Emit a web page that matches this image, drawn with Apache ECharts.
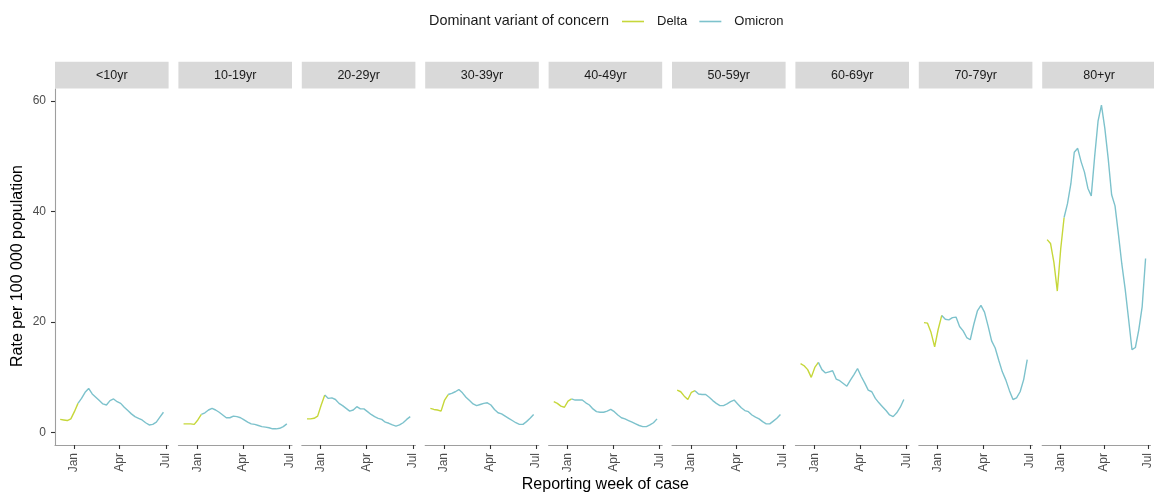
<!DOCTYPE html>
<html>
<head>
<meta charset="utf-8">
<script src="https://cdn.jsdelivr.net/npm/echarts@6/dist/echarts.min.js"></script>
<style>
  html, body { margin: 0; padding: 0; background: #ffffff; }
  #chart { width: 1154px; height: 493px; }
</style>
</head>
<body>
<div id="chart"></div>
<script>
// Weekly COVID-19 case rates by age group, coloured by the dominant variant
const ageGroups = ['<10yr', '10-19yr', '20-29yr', '30-39yr', '40-49yr', '50-59yr', '60-69yr', '70-79yr', '80+yr'];

const weekStarts = [
  '2021-12-05', '2021-12-12', '2021-12-19', '2021-12-26', '2022-01-02', '2022-01-09',
  '2022-01-16', '2022-01-23', '2022-01-30', '2022-02-06', '2022-02-13', '2022-02-20',
  '2022-02-27', '2022-03-06', '2022-03-13', '2022-03-20', '2022-03-27', '2022-04-03',
  '2022-04-10', '2022-04-17', '2022-04-24', '2022-05-01', '2022-05-08', '2022-05-15',
  '2022-05-22', '2022-05-29', '2022-06-05', '2022-06-12', '2022-06-19', '2022-06-26'
];

// Last week in which Delta was dominant; Omicron takes over from that week on
const deltaLastWeek = '2022-01-09';

const rateUnder10 = [2.4, 2.3, 2.2, 2.5, 3.8, 5.3, 6.2, 7.3, 8.0, 7.0, 6.4, 5.8, 5.2, 5.0, 5.8, 6.1, 5.6, 5.3, 4.6, 4.0, 3.4, 2.9, 2.6, 2.3, 1.8, 1.4, 1.5, 1.9, 2.8, 3.7];
const rate10to19 = [1.6, 1.6, 1.6, 1.5, 2.3, 3.3, 3.6, 4.1, 4.4, 4.1, 3.7, 3.2, 2.7, 2.7, 3.0, 2.9, 2.7, 2.3, 1.9, 1.6, 1.5, 1.3, 1.1, 1.0, 0.9, 0.7, 0.7, 0.8, 1.1, 1.6];
const rate20to29 = [2.5, 2.5, 2.6, 3.0, 5.0, 6.8, 6.2, 6.3, 6.0, 5.3, 4.9, 4.4, 3.9, 4.1, 4.7, 4.3, 4.3, 3.8, 3.3, 2.9, 2.6, 2.4, 1.9, 1.7, 1.4, 1.2, 1.4, 1.8, 2.4, 2.9];
const rate30to39 = [4.4, 4.2, 4.1, 3.9, 5.9, 6.9, 7.1, 7.4, 7.8, 7.2, 6.4, 5.8, 5.2, 4.9, 5.1, 5.3, 5.4, 5.0, 4.2, 3.6, 3.4, 3.0, 2.6, 2.2, 1.8, 1.5, 1.5, 2.0, 2.6, 3.3];
const rate40to49 = [5.6, 5.3, 4.8, 4.6, 5.7, 6.1, 5.9, 5.9, 5.9, 5.4, 5.0, 4.3, 3.8, 3.7, 3.7, 3.9, 4.2, 3.8, 3.2, 2.7, 2.5, 2.2, 1.9, 1.6, 1.3, 1.1, 1.1, 1.4, 1.8, 2.5];
const rate50to59 = [7.7, 7.4, 6.6, 6.0, 7.3, 7.6, 7.0, 6.9, 6.9, 6.4, 5.8, 5.3, 4.9, 4.9, 5.2, 5.6, 5.9, 5.2, 4.5, 4.0, 3.8, 3.2, 2.8, 2.5, 2.0, 1.6, 1.6, 2.1, 2.6, 3.3];
const rate60to69 = [12.5, 12.1, 11.4, 10.0, 11.8, 12.7, 11.4, 10.8, 11.0, 11.2, 9.7, 9.4, 8.9, 8.4, 9.5, 10.5, 11.6, 10.2, 9.0, 7.7, 7.4, 6.2, 5.4, 4.7, 4.0, 3.2, 2.9, 3.6, 4.6, 6.0];
const rate70to79 = [19.9, 19.8, 18.1, 15.5, 18.7, 21.2, 20.5, 20.4, 20.8, 20.9, 19.2, 18.4, 17.2, 16.8, 19.6, 22.0, 23.0, 21.8, 19.3, 16.6, 15.3, 13.1, 11.0, 9.5, 7.6, 6.0, 6.3, 7.4, 9.6, 13.2];
const rate80plus = [34.9, 34.2, 30.8, 25.6, 33.2, 38.9, 41.4, 45.0, 50.7, 51.4, 49.0, 47.1, 44.2, 42.8, 49.9, 56.3, 59.2, 55.0, 49.5, 43.0, 41.0, 35.9, 30.5, 25.9, 20.5, 15.0, 15.4, 18.6, 22.8, 31.5];

const ratesByGroup = [rateUnder10, rate10to19, rate20to29, rate30to39, rate40to49, rate50to59, rate60to69, rate70to79, rate80plus];

const xTickDates = ['2022-01-01', '2022-04-01', '2022-07-01'];
const xTickLabels = ['Jan', 'Apr', 'Jul'];
const yTickValues = [0, 20, 40, 60];

const variantNames = ['Delta', 'Omicron'];
const variantColors = ['#C6D73A', '#7DC2CC'];

// ---- layout ----
const FONT = '"Liberation Sans", Arial, Helvetica, sans-serif';
const panelLeft0 = 55;
const panelStep = 123.4;
const panelWidth = 113.6;
const panelTop = 89;
const panelBottom = 445;
const stripTop = 61.7;
const stripHeight = 26.8;

const DAY = 86400000;
// dates as whole days since 1970-01-01 (UTC), so the x scale is linear in days
function toDay(s) {
  const p = s.split('-').map(Number);
  return Date.UTC(p[0], p[1] - 1, p[2]) / DAY;
}

const weekDays = weekStarts.map(toDay);
const switchDay = toDay(deltaLastWeek);
const tickDays = xTickDates.map(toDay);

// ggplot-style 5% expansion of both scales
const dMin = weekDays[0], dMax = weekDays[weekDays.length - 1];
const xPad = (dMax - dMin) * 0.05;
let vMin = Infinity, vMax = -Infinity;
ratesByGroup.forEach(arr => arr.forEach(v => { vMin = Math.min(vMin, v); vMax = Math.max(vMax, v); }));
const yPad = (vMax - vMin) * 0.05;

const grids = [], xAxes = [], yAxes = [], series = [], graphics = [];

ageGroups.forEach((group, k) => {
  const left = panelLeft0 + panelStep * k;
  grids.push({ left: left, top: panelTop, width: panelWidth, height: panelBottom - panelTop, containLabel: false });

  xAxes.push({
    type: 'value',
    gridIndex: k,
    min: dMin - xPad,
    max: dMax + xPad,
    axisLine: { show: true, onZero: false, lineStyle: { color: '#9E9E9E', width: 1.1 } },
    axisTick: { show: true, length: 4, customValues: tickDays, lineStyle: { color: '#333333', width: 1.1 } },
    axisLabel: {
      show: true,
      customValues: tickDays,
      rotate: 90,
      margin: 8,
      // extra bottom padding moves the rotated text a little left of its tick
      padding: [0, 0, 8, 0],
      color: '#4D4D4D',
      fontSize: 12,
      fontFamily: FONT,
      showMinLabel: true,
      showMaxLabel: true,
      formatter: function (val) {
        const i = tickDays.indexOf(val);
        return i >= 0 ? xTickLabels[i] : '';
      }
    },
    splitLine: { show: false }
  });

  const first = k === 0;
  yAxes.push({
    type: 'value',
    gridIndex: k,
    min: vMin - yPad,
    max: vMax + yPad,
    axisLine: { show: first, onZero: false, lineStyle: { color: '#9E9E9E', width: 1.1 } },
    axisTick: { show: first, length: 4, customValues: yTickValues, lineStyle: { color: '#333333', width: 1.1 } },
    axisLabel: { show: first, customValues: yTickValues, margin: 9, color: '#4D4D4D', fontSize: 12, fontFamily: FONT },
    splitLine: { show: false }
  });

  const rates = ratesByGroup[k];
  const deltaData = [], omicronData = [];
  weekDays.forEach((d, i) => {
    if (d <= switchDay) deltaData.push([d, rates[i]]);
    if (d >= switchDay) omicronData.push([d, rates[i]]);
  });

  [deltaData, omicronData].forEach((data, v) => {
    series.push({
      name: variantNames[v],
      type: 'line',
      xAxisIndex: k,
      yAxisIndex: k,
      data: data,
      symbol: 'none',
      showSymbol: false,
      smooth: false,
      silent: true,
      lineStyle: { color: variantColors[v], width: 1.4 },
      itemStyle: { color: variantColors[v] },
      z: 3 + v
    });
  });

  // facet strip
  graphics.push({
    type: 'rect',
    shape: { x: left, y: stripTop, width: panelWidth, height: stripHeight },
    style: { fill: '#D9D9D9' },
    silent: true
  });
  graphics.push({
    type: 'text',
    x: left + panelWidth / 2,
    y: stripTop + stripHeight / 2,
    style: { text: group, fill: '#1A1A1A', font: '12.5px ' + FONT, align: 'center', verticalAlign: 'middle' },
    silent: true
  });
});

// axis titles and legend title
const panelsRight = panelLeft0 + panelStep * (ageGroups.length - 1) + panelWidth;
graphics.push({
  type: 'text',
  x: (panelLeft0 + panelsRight) / 2,
  y: 485,
  style: { text: 'Reporting week of case', fill: '#000000', font: '16px ' + FONT, align: 'center', verticalAlign: 'middle' },
  silent: true
});
graphics.push({
  type: 'text',
  x: 18,
  y: 266,
  rotation: Math.PI / 2,
  style: { text: 'Rate per 100 000 population', fill: '#000000', font: '16px ' + FONT, align: 'center', verticalAlign: 'middle' },
  silent: true
});
graphics.push({
  type: 'text',
  x: 429,
  y: 21,
  style: { text: 'Dominant variant of concern', fill: '#1A1A1A', font: '14.4px ' + FONT, align: 'left', verticalAlign: 'middle' },
  silent: true
});

const chart = echarts.init(document.getElementById('chart'), null, { renderer: 'canvas' });
chart.setOption({
  backgroundColor: '#FFFFFF',
  animation: false,
  textStyle: { fontFamily: FONT },
  legend: {
    data: variantNames,
    left: 622,
    top: 15,
    orient: 'horizontal',
    icon: 'rect',
    itemWidth: 22,
    itemHeight: 1.6,
    itemGap: 12,
    padding: 0,
    selectedMode: false,
    textStyle: { color: '#1A1A1A', fontSize: 13, fontFamily: FONT, padding: [0, 0, 0, 8] }
  },
  grid: grids,
  xAxis: xAxes,
  yAxis: yAxes,
  series: series,
  graphic: graphics
});
</script>
</body>
</html>
